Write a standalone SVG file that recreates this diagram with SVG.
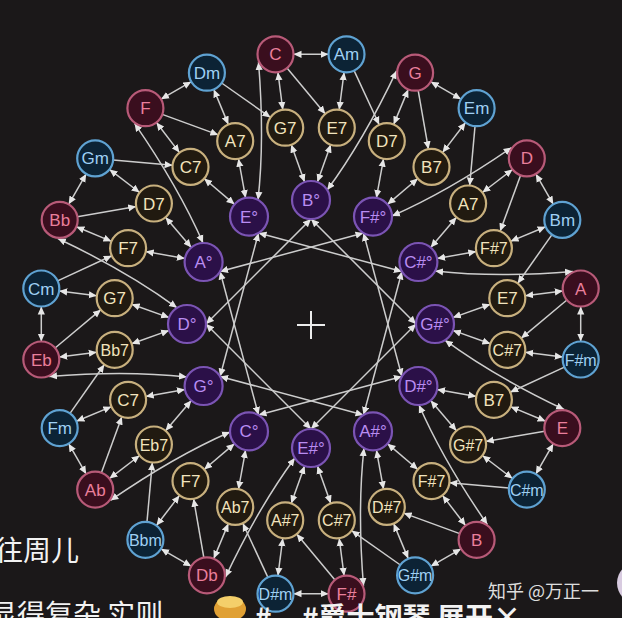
<svg xmlns="http://www.w3.org/2000/svg" width="622" height="618" viewBox="0 0 622 618">
<defs>
<marker id="ah" viewBox="0 0 10 10" refX="10" refY="5" markerWidth="8" markerHeight="8" markerUnits="userSpaceOnUse" orient="auto-start-reverse"><path d="M0,0.5 L10,5 L0,9.5 z" fill="#e6e6e6"/></marker>
<style>
.bg{fill:#1b1819}
#connectors path{fill:none;stroke:#cdcdcd;stroke-width:1.5}
#connectors .b{marker-start:url(#ah);marker-end:url(#ah)}
#connectors .e{marker-end:url(#ah)}
.node circle{stroke-width:2.2}
.node text{font-family:"Liberation Sans",Arial,sans-serif;font-size:17px;text-anchor:middle}
.node text.w{font-size:16px}
.maj circle{fill:#3a0e1e;stroke:#b85a78}
.maj text{fill:#ea7f9c}
.min circle{fill:#0c2335;stroke:#5fa2d2}
.min text{fill:#9fd0f3}
.sev circle{fill:#211a10;stroke:#c8b07e}
.sev text{fill:#f2e4bd}
.dim circle{fill:#2b1048;stroke:#7b54b4}
.dim text{fill:#b98cf2}
.cap{font-family:"Noto Sans CJK SC","Liberation Sans",sans-serif;fill:#f2f2f2}
</style>
</defs>
<rect class="bg" x="0" y="0" width="622" height="618"/>

<g id="connectors">
<g>
<path class="b" d="M293.5,54.3H328.5"/><path class="b" d="M277.9,72.2L282.8,109.8"/><path class="e" d="M287,68.1L325.3,113.9"/><path class="b" d="M344.1,72.2L339.2,109.8"/><path class="e" d="M354.1,70.6L379.2,124.8"/><path class="b" d="M291.2,144.6L304.6,182.1"/><path class="b" d="M330.8,144.6L317.4,182.1"/><path class="b" d="M258.5,62C262,105 263,155 258,199.9"/><path class="b" d="M311,219L416,324"/>
</g>
<g transform="rotate(30 311 324)">
<path class="b" d="M293.5,54.3H328.5"/><path class="b" d="M277.9,72.2L282.8,109.8"/><path class="e" d="M287,68.1L325.3,113.9"/><path class="b" d="M344.1,72.2L339.2,109.8"/><path class="e" d="M354.1,70.6L379.2,124.8"/><path class="b" d="M291.2,144.6L304.6,182.1"/><path class="b" d="M330.8,144.6L317.4,182.1"/><path class="b" d="M258.5,62C262,105 263,155 258,199.9"/><path class="b" d="M311,219L416,324"/>
</g>
<g transform="rotate(60 311 324)">
<path class="b" d="M293.5,54.3H328.5"/><path class="b" d="M277.9,72.2L282.8,109.8"/><path class="e" d="M287,68.1L325.3,113.9"/><path class="b" d="M344.1,72.2L339.2,109.8"/><path class="e" d="M354.1,70.6L379.2,124.8"/><path class="b" d="M291.2,144.6L304.6,182.1"/><path class="b" d="M330.8,144.6L317.4,182.1"/><path class="b" d="M258.5,62C262,105 263,155 258,199.9"/><path class="b" d="M311,219L416,324"/>
</g>
<g transform="rotate(90 311 324)">
<path class="b" d="M293.5,54.3H328.5"/><path class="b" d="M277.9,72.2L282.8,109.8"/><path class="e" d="M287,68.1L325.3,113.9"/><path class="b" d="M344.1,72.2L339.2,109.8"/><path class="e" d="M354.1,70.6L379.2,124.8"/><path class="b" d="M291.2,144.6L304.6,182.1"/><path class="b" d="M330.8,144.6L317.4,182.1"/><path class="b" d="M258.5,62C262,105 263,155 258,199.9"/><path class="b" d="M311,219L416,324"/>
</g>
<g transform="rotate(120 311 324)">
<path class="b" d="M293.5,54.3H328.5"/><path class="b" d="M277.9,72.2L282.8,109.8"/><path class="e" d="M287,68.1L325.3,113.9"/><path class="b" d="M344.1,72.2L339.2,109.8"/><path class="e" d="M354.1,70.6L379.2,124.8"/><path class="b" d="M291.2,144.6L304.6,182.1"/><path class="b" d="M330.8,144.6L317.4,182.1"/><path class="b" d="M258.5,62C262,105 263,155 258,199.9"/><path class="b" d="M311,219L416,324"/>
</g>
<g transform="rotate(150 311 324)">
<path class="b" d="M293.5,54.3H328.5"/><path class="b" d="M277.9,72.2L282.8,109.8"/><path class="e" d="M287,68.1L325.3,113.9"/><path class="b" d="M344.1,72.2L339.2,109.8"/><path class="e" d="M354.1,70.6L379.2,124.8"/><path class="b" d="M291.2,144.6L304.6,182.1"/><path class="b" d="M330.8,144.6L317.4,182.1"/><path class="b" d="M258.5,62C262,105 263,155 258,199.9"/><path class="b" d="M311,219L416,324"/>
</g>
<g transform="rotate(180 311 324)">
<path class="b" d="M293.5,54.3H328.5"/><path class="b" d="M277.9,72.2L282.8,109.8"/><path class="e" d="M287,68.1L325.3,113.9"/><path class="b" d="M344.1,72.2L339.2,109.8"/><path class="e" d="M354.1,70.6L379.2,124.8"/><path class="b" d="M291.2,144.6L304.6,182.1"/><path class="b" d="M330.8,144.6L317.4,182.1"/><path class="b" d="M258.5,62C262,105 263,155 258,199.9"/><path class="b" d="M311,219L416,324"/>
</g>
<g transform="rotate(210 311 324)">
<path class="b" d="M293.5,54.3H328.5"/><path class="b" d="M277.9,72.2L282.8,109.8"/><path class="e" d="M287,68.1L325.3,113.9"/><path class="b" d="M344.1,72.2L339.2,109.8"/><path class="e" d="M354.1,70.6L379.2,124.8"/><path class="b" d="M291.2,144.6L304.6,182.1"/><path class="b" d="M330.8,144.6L317.4,182.1"/><path class="b" d="M258.5,62C262,105 263,155 258,199.9"/><path class="b" d="M311,219L416,324"/>
</g>
<g transform="rotate(240 311 324)">
<path class="b" d="M293.5,54.3H328.5"/><path class="b" d="M277.9,72.2L282.8,109.8"/><path class="e" d="M287,68.1L325.3,113.9"/><path class="b" d="M344.1,72.2L339.2,109.8"/><path class="e" d="M354.1,70.6L379.2,124.8"/><path class="b" d="M291.2,144.6L304.6,182.1"/><path class="b" d="M330.8,144.6L317.4,182.1"/><path class="b" d="M258.5,62C262,105 263,155 258,199.9"/><path class="b" d="M311,219L416,324"/>
</g>
<g transform="rotate(270 311 324)">
<path class="b" d="M293.5,54.3H328.5"/><path class="b" d="M277.9,72.2L282.8,109.8"/><path class="e" d="M287,68.1L325.3,113.9"/><path class="b" d="M344.1,72.2L339.2,109.8"/><path class="e" d="M354.1,70.6L379.2,124.8"/><path class="b" d="M291.2,144.6L304.6,182.1"/><path class="b" d="M330.8,144.6L317.4,182.1"/><path class="b" d="M258.5,62C262,105 263,155 258,199.9"/><path class="b" d="M311,219L416,324"/>
</g>
<g transform="rotate(300 311 324)">
<path class="b" d="M293.5,54.3H328.5"/><path class="b" d="M277.9,72.2L282.8,109.8"/><path class="e" d="M287,68.1L325.3,113.9"/><path class="b" d="M344.1,72.2L339.2,109.8"/><path class="e" d="M354.1,70.6L379.2,124.8"/><path class="b" d="M291.2,144.6L304.6,182.1"/><path class="b" d="M330.8,144.6L317.4,182.1"/><path class="b" d="M258.5,62C262,105 263,155 258,199.9"/><path class="b" d="M311,219L416,324"/>
</g>
<g transform="rotate(330 311 324)">
<path class="b" d="M293.5,54.3H328.5"/><path class="b" d="M277.9,72.2L282.8,109.8"/><path class="e" d="M287,68.1L325.3,113.9"/><path class="b" d="M344.1,72.2L339.2,109.8"/><path class="e" d="M354.1,70.6L379.2,124.8"/><path class="b" d="M291.2,144.6L304.6,182.1"/><path class="b" d="M330.8,144.6L317.4,182.1"/><path class="b" d="M258.5,62C262,105 263,155 258,199.9"/><path class="b" d="M311,219L416,324"/>
</g>
</g>

<path id="center-cross" d="M297,325H325M311,311V339" stroke="#ececec" stroke-width="2" fill="none"/>

<g id="nodes">
<g id="n-C" class="node maj"><circle cx="275.5" cy="54.3" r="18"/><text x="275.5" y="60.3">C</text></g>
<g id="n-G" class="node maj"><circle cx="415.1" cy="72.7" r="18"/><text x="415.1" y="78.7">G</text></g>
<g id="n-D" class="node maj"><circle cx="526.8" cy="158.4" r="18"/><text x="526.8" y="164.4">D</text></g>
<g id="n-A" class="node maj"><circle cx="580.7" cy="288.5" r="18"/><text x="580.7" y="294.5">A</text></g>
<g id="n-E" class="node maj"><circle cx="562.3" cy="428.1" r="18"/><text x="562.3" y="434.1">E</text></g>
<g id="n-B" class="node maj"><circle cx="476.6" cy="539.8" r="18"/><text x="476.6" y="545.8">B</text></g>
<g id="n-Fs" class="node maj"><circle cx="346.5" cy="593.7" r="18"/><text x="346.5" y="599.7">F#</text></g>
<g id="n-Db" class="node maj"><circle cx="206.9" cy="575.3" r="18"/><text x="206.9" y="581.3">Db</text></g>
<g id="n-Ab" class="node maj"><circle cx="95.2" cy="489.6" r="18"/><text x="95.2" y="495.6">Ab</text></g>
<g id="n-Eb" class="node maj"><circle cx="41.3" cy="359.5" r="18"/><text x="41.3" y="365.5">Eb</text></g>
<g id="n-Bb" class="node maj"><circle cx="59.7" cy="219.9" r="18"/><text x="59.7" y="225.9">Bb</text></g>
<g id="n-F" class="node maj"><circle cx="145.4" cy="108.2" r="18"/><text x="145.4" y="114.2">F</text></g>

<g id="n-Am" class="node min"><circle cx="346.5" cy="54.3" r="18"/><text x="346.5" y="60.3">Am</text></g>
<g id="n-Em" class="node min"><circle cx="476.6" cy="108.2" r="18"/><text x="476.6" y="114.2">Em</text></g>
<g id="n-Bm" class="node min"><circle cx="562.3" cy="219.9" r="18"/><text x="562.3" y="225.9">Bm</text></g>
<g id="n-Fsm" class="node min"><circle cx="580.7" cy="359.5" r="18"/><text class="w" x="580.7" y="365.5">F#m</text></g>
<g id="n-Csm" class="node min"><circle cx="526.8" cy="489.6" r="18"/><text class="w" x="526.8" y="495.6">C#m</text></g>
<g id="n-Gsm" class="node min"><circle cx="415.1" cy="575.3" r="18"/><text class="w" x="415.1" y="581.3">G#m</text></g>
<g id="n-Dsm" class="node min"><circle cx="275.5" cy="593.7" r="18"/><text class="w" x="275.5" y="599.7">D#m</text></g>
<g id="n-Bbm" class="node min"><circle cx="145.4" cy="539.8" r="18"/><text class="w" x="145.4" y="545.8">Bbm</text></g>
<g id="n-Fm" class="node min"><circle cx="59.7" cy="428.1" r="18"/><text x="59.7" y="434.1">Fm</text></g>
<g id="n-Cm" class="node min"><circle cx="41.3" cy="288.5" r="18"/><text x="41.3" y="294.5">Cm</text></g>
<g id="n-Gm" class="node min"><circle cx="95.2" cy="158.4" r="18"/><text x="95.2" y="164.4">Gm</text></g>
<g id="n-Dm" class="node min"><circle cx="206.9" cy="72.7" r="18"/><text x="206.9" y="78.7">Dm</text></g>

<g id="s-G7-a" class="node sev"><circle cx="285.2" cy="127.7" r="18"/><text x="285.2" y="133.7">G7</text></g>
<g id="s-E7-a" class="node sev"><circle cx="336.8" cy="127.7" r="18"/><text x="336.8" y="133.7">E7</text></g>
<g id="s-D7-a" class="node sev"><circle cx="386.8" cy="141.1" r="18"/><text x="386.8" y="147.1">D7</text></g>
<g id="s-B7-a" class="node sev"><circle cx="431.5" cy="166.9" r="18"/><text x="431.5" y="172.9">B7</text></g>
<g id="s-A7-a" class="node sev"><circle cx="468.1" cy="203.5" r="18"/><text x="468.1" y="209.5">A7</text></g>
<g id="s-Fs7-a" class="node sev"><circle cx="493.9" cy="248.2" r="18"/><text class="w" x="493.9" y="254.2">F#7</text></g>
<g id="s-E7-b" class="node sev"><circle cx="507.3" cy="298.2" r="18"/><text x="507.3" y="304.2">E7</text></g>
<g id="s-Cs7-a" class="node sev"><circle cx="507.3" cy="349.8" r="18"/><text class="w" x="507.3" y="355.8">C#7</text></g>
<g id="s-B7-b" class="node sev"><circle cx="493.9" cy="399.8" r="18"/><text x="493.9" y="405.8">B7</text></g>
<g id="s-Gs7" class="node sev"><circle cx="468.1" cy="444.5" r="18"/><text class="w" x="468.1" y="450.5">G#7</text></g>
<g id="s-Fs7-b" class="node sev"><circle cx="431.5" cy="481.1" r="18"/><text class="w" x="431.5" y="487.1">F#7</text></g>
<g id="s-Ds7" class="node sev"><circle cx="386.8" cy="506.9" r="18"/><text class="w" x="386.8" y="512.9">D#7</text></g>
<g id="s-Cs7-b" class="node sev"><circle cx="336.8" cy="520.3" r="18"/><text class="w" x="336.8" y="526.3">C#7</text></g>
<g id="s-As7" class="node sev"><circle cx="285.2" cy="520.3" r="18"/><text class="w" x="285.2" y="526.3">A#7</text></g>
<g id="s-Ab7" class="node sev"><circle cx="235.2" cy="506.9" r="18"/><text class="w" x="235.2" y="512.9">Ab7</text></g>
<g id="s-F7-a" class="node sev"><circle cx="190.5" cy="481.1" r="18"/><text x="190.5" y="487.1">F7</text></g>
<g id="s-Eb7" class="node sev"><circle cx="153.9" cy="444.5" r="18"/><text class="w" x="153.9" y="450.5">Eb7</text></g>
<g id="s-C7-a" class="node sev"><circle cx="128.1" cy="399.8" r="18"/><text x="128.1" y="405.8">C7</text></g>
<g id="s-Bb7" class="node sev"><circle cx="114.7" cy="349.8" r="18"/><text class="w" x="114.7" y="355.8">Bb7</text></g>
<g id="s-G7-b" class="node sev"><circle cx="114.7" cy="298.2" r="18"/><text x="114.7" y="304.2">G7</text></g>
<g id="s-F7-b" class="node sev"><circle cx="128.1" cy="248.2" r="18"/><text x="128.1" y="254.2">F7</text></g>
<g id="s-D7-b" class="node sev"><circle cx="153.9" cy="203.5" r="18"/><text x="153.9" y="209.5">D7</text></g>
<g id="s-C7-b" class="node sev"><circle cx="190.5" cy="166.9" r="18"/><text x="190.5" y="172.9">C7</text></g>
<g id="s-A7-b" class="node sev"><circle cx="235.2" cy="141.1" r="18"/><text x="235.2" y="147.1">A7</text></g>

<g id="d-B" class="node dim"><circle cx="311" cy="200" r="19"/><text x="311" y="206">B°</text></g>
<g id="d-Fs" class="node dim"><circle cx="373" cy="216.6" r="19"/><text x="373" y="222.6">F#°</text></g>
<g id="d-Cs" class="node dim"><circle cx="418.4" cy="262" r="19"/><text x="418.4" y="268">C#°</text></g>
<g id="d-Gs" class="node dim"><circle cx="435" cy="324" r="19"/><text x="435" y="330">G#°</text></g>
<g id="d-Ds" class="node dim"><circle cx="418.4" cy="386" r="19"/><text x="418.4" y="392">D#°</text></g>
<g id="d-As" class="node dim"><circle cx="373" cy="431.4" r="19"/><text x="373" y="437.4">A#°</text></g>
<g id="d-Es" class="node dim"><circle cx="311" cy="448" r="19"/><text x="311" y="454">E#°</text></g>
<g id="d-C" class="node dim"><circle cx="249" cy="431.4" r="19"/><text x="249" y="437.4">C°</text></g>
<g id="d-G" class="node dim"><circle cx="203.6" cy="386" r="19"/><text x="203.6" y="392">G°</text></g>
<g id="d-D" class="node dim"><circle cx="187" cy="324" r="19"/><text x="187" y="330">D°</text></g>
<g id="d-A" class="node dim"><circle cx="203.6" cy="262" r="19"/><text x="203.6" y="268">A°</text></g>
<g id="d-E" class="node dim"><circle cx="249" cy="216.6" r="19"/><text x="249" y="222.6">E°</text></g>
</g>

<g id="overlay">
<text class="cap" x="-5" y="561" font-size="28">往周儿</text>
<text class="cap" x="-11" y="625" font-size="28">显得复杂 实则</text>
<ellipse cx="230" cy="609" rx="16" ry="12" fill="#e0a034"/>
<ellipse cx="230" cy="602" rx="13" ry="6" fill="#f4cf6a"/>
<text class="cap" x="255" y="628" font-size="28" font-weight="bold">#</text>
<text class="cap" x="302" y="628" font-size="28" font-weight="bold">#爵士钢琴 展开×</text>
<text class="cap" x="488" y="598" font-size="18" fill-opacity="0.92">知乎 @万正一</text>
<ellipse cx="638" cy="583" rx="21" ry="21" fill="#d8cbe0"/>
</g>
</svg>
